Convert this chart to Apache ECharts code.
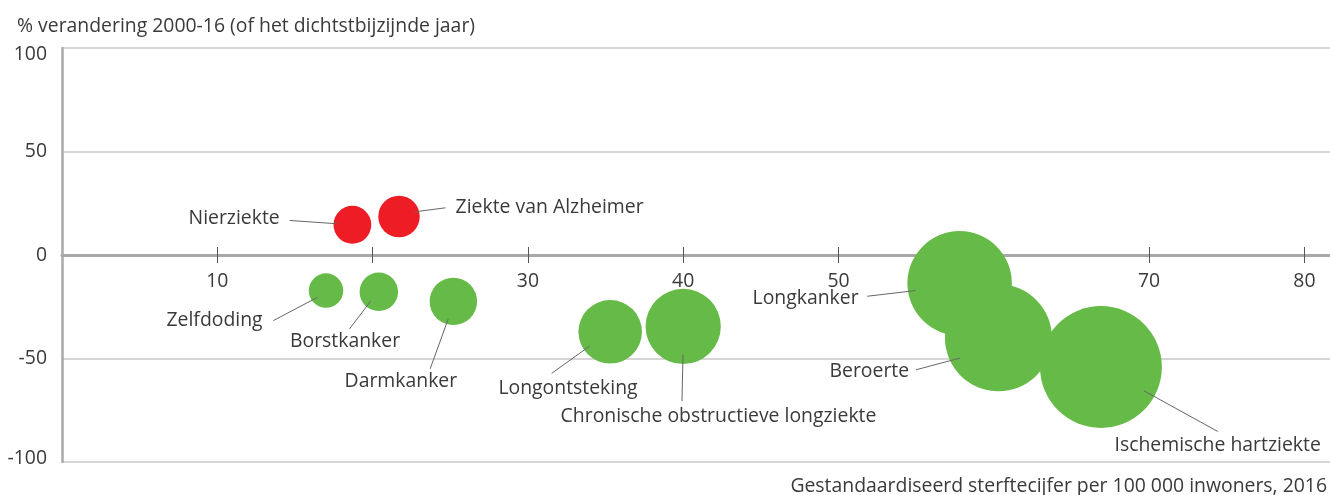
<!DOCTYPE html>
<html>
<head>
<meta charset="utf-8">
<script src="https://cdn.jsdelivr.net/npm/echarts@6/dist/echarts.min.js"></script>
<style>
  html, body { margin: 0; padding: 0; background: #fff; }
  #chart { width: 1330px; height: 495px; }
</style>
</head>
<body>
<div id="chart"></div>
<script>
// doodsoorzaken, sterftecijfer 2016 en % verandering sinds 2000
const causes = [
  'Nierziekte', 'Ziekte van Alzheimer', 'Zelfdoding', 'Borstkanker', 'Darmkanker',
  'Longontsteking', 'Chronische obstructieve longziekte', 'Longkanker', 'Beroerte',
  'Ischemische hartziekte'
];
const mortality2016 = [18.7, 21.7, 17.0, 20.4, 25.2, 35.3, 40.0, 57.8, 60.3, 66.9];
const change2000to16 = [14.6, 18.6, -17.2, -17.8, -22.4, -37.1, -34.5, -13.7, -40.0, -54.1];
const bubbleWeight = [14.3, 17.2, 11.9, 14.8, 22.5, 40.4, 56.6, 109.2, 114.5, 148.4];

const xTicks = [10, 20, 30, 40, 50, 60, 70, 80];
const xTickLabels = [10, 30, 40, 50, 70, 80];

const RED = '#ee1d25';
const GREEN = '#66bb48';
const TEXT = '#3a3a3a';
const FONT = 'Open Sans';
const FS = 19.4;

const H = 495, GRID_TOP = 48, GRID_BOTTOM = 33;
// y range is symmetric, so the zero line sits half way down the grid
const zeroShift = -(H - GRID_TOP - GRID_BOTTOM) / 2;

// label + leader line placement, relative to bubble centre (px)
const labelPlacement = [
  { at: [-72.7, -6], align: 'right', line: [[-62.7, -4.3], [-15, -1]] },
  { at: [56.6, -9], align: 'left', line: [[46.5, -8.7], [15.8, -4.7]] },
  { at: [-63.4, 30], align: 'right', line: [[-52.7, 30], [-8.4, 6.7]] },
  { at: [-33.8, 50], align: 'center', line: [[-29.3, 37.1], [-8.3, 9.5]] },
  { at: [-52.5, 80.5], align: 'center', line: [[-23.2, 67.5], [-5.1, 17.5]] },
  { at: [-42.2, 56.8], align: 'center', line: [[-58.5, 41.5], [-20.8, 14.5]] },
  { at: [35.3, 90], align: 'center', line: [[-0.2, 28.2], [-1.2, 74.9]] },
  { at: [-101, 15], align: 'right', line: [[-92.4, 12.9], [-44.1, 7.2]] },
  { at: [-89.3, 33.8], align: 'right', line: [[-82.5, 32], [-38.5, 20.3]] },
  { at: [116.7, 78], align: 'center', line: [[116.8, 64.5], [43, 23.8]] }
];

const points = causes.map((name, i) => [mortality2016[i], change2000to16[i], bubbleWeight[i]]);

function renderItem(params, api) {
  const i = params.dataIndex;
  const c = api.coord([api.value(0), api.value(1)]);
  const r = Math.sqrt(api.value(2)) * 5;
  const p = labelPlacement[i];
  return {
    type: 'group',
    children: [
      {
        type: 'circle',
        shape: { cx: c[0], cy: c[1], r: r },
        style: { fill: api.value(1) > 0 ? RED : GREEN }
      },
      {
        type: 'line',
        shape: {
          x1: c[0] + p.line[0][0], y1: c[1] + p.line[0][1],
          x2: c[0] + p.line[1][0], y2: c[1] + p.line[1][1]
        },
        style: { stroke: '#666', lineWidth: 1 }
      },
      {
        type: 'text',
        x: c[0] + p.at[0],
        y: c[1] + p.at[1],
        style: {
          text: causes[i],
          fill: TEXT,
          font: FS + 'px "' + FONT + '"',
          align: p.align,
          verticalAlign: 'middle'
        }
      }
    ]
  };
}

const labelText = { fontFamily: FONT, fontSize: FS, color: TEXT };

const chart = echarts.init(document.getElementById('chart'));
chart.setOption({
  animation: false,
  title: [
    {
      text: '% verandering 2000-16 (of het dichtstbijzijnde jaar)',
      left: 17, top: 17, padding: 0,
      textStyle: { fontFamily: FONT, fontSize: FS, fontWeight: 'normal', color: TEXT }
    },
    {
      text: 'Gestandaardiseerd sterftecijfer per 100 000 inwoners, 2016',
      right: 3, top: 477, padding: 0,
      textStyle: { fontFamily: FONT, fontSize: FS, fontWeight: 'normal', color: TEXT }
    }
  ],
  grid: { left: 62, right: 0, top: GRID_TOP, bottom: GRID_BOTTOM, outerBoundsMode: 'none' },
  xAxis: [
    {
      type: 'value', min: 0, max: 81.65, position: 'bottom', offset: zeroShift, z: 1,
      axisLine: { onZero: false, lineStyle: { color: '#a8a8a8', width: 3 } },
      axisTick: { customValues: xTicks, length: 8, lineStyle: { color: '#555', width: 1 } },
      axisLabel: Object.assign({ customValues: xTickLabels, margin: 17 }, labelText),
      splitLine: { show: false }
    },
    {
      type: 'value', min: 0, max: 81.65, position: 'bottom', offset: zeroShift, z: 1,
      axisLine: { show: false, onZero: false },
      axisTick: { customValues: xTicks, inside: true, length: 8, lineStyle: { color: '#555', width: 1 } },
      axisLabel: { show: false },
      splitLine: { show: false }
    }
  ],
  yAxis: {
    type: 'value', min: -100, max: 100, interval: 50,
    axisLine: { show: true, onZero: false, lineStyle: { color: '#a8a8a8', width: 2.5 } },
    axisTick: { show: false },
    axisLabel: Object.assign({
      margin: 15,
      formatter: function (v) {
        if (v === 100) return '{top|100}';
        if (v === -100) return '{bottom|-100}';
        return String(v);
      },
      rich: {
        top: Object.assign({ padding: [13, 0, 0, 0] }, labelText),
        bottom: Object.assign({ padding: [0, 0, 7, 0] }, labelText)
      }
    }, labelText),
    splitLine: { show: true, lineStyle: { color: '#c8c8c8', width: 1.5 } }
  },
  series: [
    {
      type: 'custom',
      renderItem: renderItem,
      data: points,
      encode: { x: 0, y: 1 },
      z: 2
    }
  ]
});
</script>
</body>
</html>
